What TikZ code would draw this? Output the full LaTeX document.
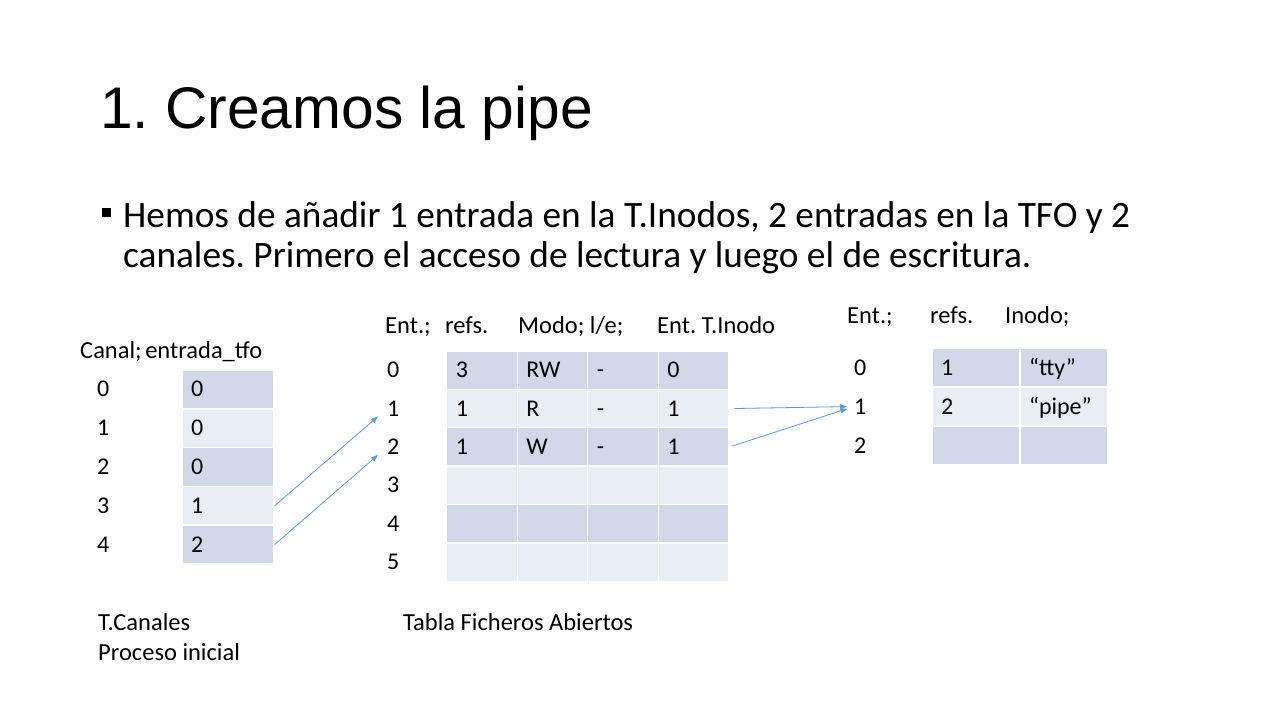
\documentclass[tikz,border=0pt]{standalone}
\usepackage{fontspec}
\setmainfont{Carlito}
\newfontfamily\titlefont{Liberation Sans}
\usepackage{xcolor}
\usepackage{tikz}
\usetikzlibrary{arrows.meta,positioning,calc}
\frenchspacing

\definecolor{rowdark}{RGB}{208,216,234}
\definecolor{rowlight}{RGB}{233,237,245}
\definecolor{ptrblue}{RGB}{91,155,213}

\tikzset{
  tcell/.style={rectangle, draw=white, line width=1.3pt, minimum height=38.6pt,
    text width=#1, inner xsep=9pt, inner ysep=0pt, align=left,
    text height=16pt, text depth=1pt,
    font=\fontsize{24}{28}\selectfont},
  idx/.style={inner sep=0pt, anchor=west, text height=16pt, text depth=1pt,
    font=\fontsize{24}{28}\selectfont},
  hdr/.style={inner sep=0pt, anchor=base west, font=\fontsize{24.5}{28}\selectfont},
  ptr/.style={ptrblue, line width=0.8pt, -{Triangle[length=7pt,width=5pt]}}
}

\begin{document}
\begin{tikzpicture}[x=1pt,y=-1pt]
  \useasboundingbox (0,0) rectangle (1280,720);
  % title and text
  \node[inner sep=0pt, anchor=base west, font=\titlefont\fontsize{58.7}{64}\selectfont] (title) at (100,128) {1. Creamos la pipe};
  \fill (102,208) rectangle (110.5,216.5);
  \node[inner sep=0pt, anchor=base west, align=left,
        font=\fontsize{37.3}{40}\selectfont] (body) at (123,267)
    {Hemos de añadir 1 entrada en la T.Inodos, 2 entradas en la TFO y 2\\canales. Primero el acceso de lectura y luego el de escritura.};

  % T.Canales
  \node[hdr] (hcanal) at (80,358) {Canal;\hspace{-2pt} entrada\_tfo};
  \foreach \v/\col [count=\i from 0] in {0/rowdark,0/rowlight,0/rowdark,1/rowlight,2/rowdark} {
    \node[idx] (ci-\i) at (97,{370+38.8*(\i+0.5)}) {\i};
    \node[tcell=74pt, fill=\col] (canal-\i) at (228,{370+38.8*(\i+0.5)}) {\v};
  }
  \node[hdr] (tcanales) at (98,630) {T.Canales};
  \node[hdr] (proceso) at (98,660) {Proceso inicial};

  % Tabla Ficheros Abiertos
  \node[hdr] (h1) at (385,333) {Ent.;};
  \node[hdr] (h2) at (445,333) {refs.};
  \node[hdr] (h3) at (518,333) {Modo; l/e;};
  \node[hdr] (h4) at (657,333) {Ent. T.Inodo};
  \foreach \col/\va/\vb/\vc/\vd [count=\r from 0] in
      {rowdark/3/RW/-/0, rowlight/1/R/-/1, rowdark/1/W/-/1,
       rowlight/{}/{}/{}/{}, rowdark/{}/{}/{}/{}, rowlight/{}/{}/{}/{}} {
    \node[idx] (fi-\r) at (387,{351+38.4*(\r+0.5)}) {\r};
    \foreach \t [count=\c from 0] in {\va,\vb,\vc,\vd}
      \node[tcell=52.5pt, fill=\col] (tfo-\r-\c) at ({482+70.5*\c},{351+38.4*(\r+0.5)}) {\t};
  }
  \node[hdr] (tfa) at (403,630) {Tabla Ficheros Abiertos};

  % T.Inodos
  \node[hdr] (g1) at (847,323) {Ent.;};
  \node[hdr] (g2) at (930,323) {refs.};
  \node[hdr] (g3) at (1005,323) {Inodo;};
  \foreach \col/\va/\vb [count=\r from 0] in {rowdark/1/“tty”, rowlight/2/“pipe”, rowdark/{}/{}} {
    \node[idx] (ii-\r) at (854,{348+39*(\r+0.5)}) {\r};
    \node[tcell=70pt, fill=\col] (ino-\r-0) at (976,{348+39*(\r+0.5)}) {\va};
    \node[tcell=70pt, fill=\col] (ino-\r-1) at (1064,{348+39*(\r+0.5)}) {\vb};
  }

  % pointers
  \draw[ptr, shorten >=12pt] (canal-3.east) -- (fi-1.west);
  \draw[ptr, shorten >=12pt] (canal-4.east) -- (fi-2.west);
  \draw[ptr, shorten <=5pt, shorten >=7pt] (tfo-1-3.east) -- (ii-1.west);
  \draw[ptr, shorten <=3pt, shorten >=7pt] (tfo-2-3.east) -- (ii-1.west);
\end{tikzpicture}
\end{document}
